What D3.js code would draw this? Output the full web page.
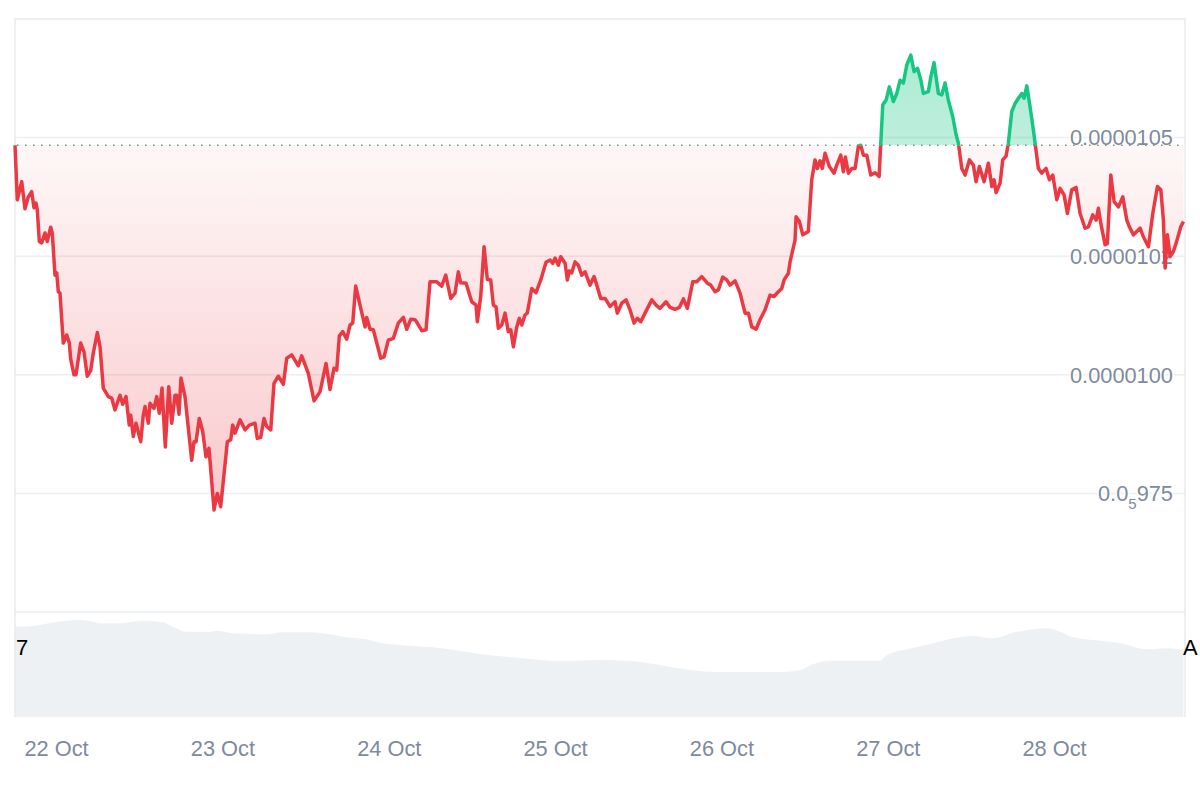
<!DOCTYPE html>
<html>
<head>
<meta charset="utf-8">
<script src="https://cdn.jsdelivr.net/npm/d3@7"></script>
<style>
  body { margin: 0; background: #fff; }
  text { font-family: "Liberation Sans", Arial, sans-serif; }
</style>
</head>
<body>
<script>
const width = 1200;
const height = 800;

// hours after 21 Oct 18:00 UTC, price in units of 1e-8
const priceHours = [0, 0.33, 0.97, 1.44, 1.92, 2.41, 2.74, 3.03, 3.22, 3.51, 3.85, 4.33, 4.66, 5.15, 5.38, 5.77, 6.02, 6.25, 6.49, 6.97,
  7.46, 7.84, 8.04, 8.51, 8.8, 9.48, 9.96, 10.43, 10.92, 11.3, 11.88, 12.27, 12.74, 13.46, 13.95, 14.43, 15.15, 15.54, 16.02, 16.49,
  16.7, 17.07, 17.46, 18.14, 18.51, 18.76, 19.24, 19.48, 20.06, 20.45, 20.82, 21.21, 21.69, 22.18, 22.61, 23.09, 23.33, 23.67, 23.95, 24.53,
  25.5, 25.83, 26.12, 26.59, 27.09, 27.56, 27.99, 28.72, 29.19, 29.68, 30.64, 31.13, 31.41, 31.75, 32.47, 33.19, 33.81, 34.63, 34.96, 35.45,
  35.93, 36.32, 36.9, 37.37, 37.99, 38.72, 39.21, 39.93, 40.88, 41.37, 42.32, 43.15, 44.01, 44.88, 45.45, 46.03, 46.42, 46.8, 47.29, 47.86,
  48.34, 48.73, 49.16, 49.78, 50.51, 50.75, 51.23, 51.7, 52.77, 53.25, 53.87, 54.59, 55.31, 56.03, 56.52, 57.1, 57.72, 58.05, 58.69, 59.31,
  59.88, 60.85, 61.57, 62.15, 62.87, 63.49, 63.97, 64.31, 65.08, 65.9, 66.52, 66.71, 67.2, 67.68, 68.15, 68.64, 69.02, 69.41, 69.74, 70.23,
  70.71, 71.18, 71.53, 71.91, 72.4, 72.77, 73.12, 73.59, 73.92, 74.56, 75.18, 75.86, 76.62, 77.2, 77.59, 77.92, 78.4, 78.74, 79.37, 79.7,
  79.99, 80.33, 80.81, 81.28, 81.77, 82.25, 82.97, 83.55, 83.94, 84.52, 85.14, 85.86, 86.58, 86.91, 87.55, 88.17, 88.74, 89.32, 89.8, 90.29,
  90.91, 91.88, 92.5, 93.07, 93.94, 94.52, 95.24, 95.86, 96.44, 97.01, 97.79, 98.37, 99.09, 99.9, 100.39, 101.01, 101.49, 102.12, 102.7, 103.17,
  103.9, 104.62, 105.34, 105.82, 106.31, 106.93, 107.5, 108.23, 108.95, 109.52, 110.14, 110.63, 110.97, 111.59, 111.83, 112.55, 112.7, 113.18, 113.67, 114.47,
  114.96, 115.44, 115.77, 116.16, 116.49, 116.88, 117.5, 118.18, 118.57, 119.15, 119.52, 119.81, 120.25, 120.74, 121.21, 121.69, 122.03, 122.41, 122.9, 123.48,
  124.1, 124.68, 124.92, 125.21, 125.69, 126.16, 126.74, 127.23, 127.71, 128.18, 128.67, 129.25, 129.73, 130.22, 130.69, 131.07, 131.79, 132.14, 132.61, 133.23,
  133.72, 134.2, 134.67, 135.31, 135.79, 136.12, 136.61, 137.09, 137.71, 138.28, 138.67, 139.15, 139.83, 140.45, 140.94, 141.27, 141.56, 142.14, 142.52, 143.0,
  143.33, 143.82, 144.3, 144.78, 145.27, 145.6, 145.99, 146.46, 146.94, 147.19, 147.66, 148.15, 148.77, 149.25, 149.74, 150.32, 150.79, 151.37, 151.85, 152.48,
  153.1, 153.68, 154.4, 154.88, 155.51, 155.99, 156.32, 156.67, 157.29, 157.62, 158.11, 158.59, 159.21, 159.84, 160.42, 160.79, 161.37, 161.86, 162.34, 162.81,
  163.54, 164.17, 164.84, 165.33, 165.7, 165.95, 166.28, 166.67, 167.14, 167.53, 168.21, 168.59];

const priceValues = [1048.4, 1036.9, 1040.7, 1035.0, 1037.5, 1038.6, 1035.2, 1036.2, 1034.7, 1028.1, 1027.8, 1029.9, 1028.1, 1031.1, 1029.9, 1021.0, 1021.5, 1017.5, 1017.2, 1006.7,
  1008.4, 1006.7, 1003.3, 1000.0, 1000.0, 1006.7, 1004.8, 999.7, 1000.9, 1004.6, 1008.9, 1005.9, 997.2, 995.4, 995.1, 992.6, 995.7, 993.8, 995.4, 989.4,
  991.5, 987.0, 989.8, 985.9, 991.5, 993.3, 989.8, 994.0, 992.9, 995.4, 991.9, 997.2, 984.8, 997.5, 989.8, 995.7, 995.7, 991.7, 999.3, 995.4,
  982.0, 985.9, 985.9, 990.8, 988.0, 982.7, 984.5, 971.5, 975.0, 972.2, 985.9, 986.3, 989.4, 987.7, 990.5, 988.4, 989.4, 989.8, 986.6, 986.8,
  990.8, 989.1, 988.4, 998.2, 999.7, 998.0, 1003.5, 1004.2, 1001.9, 1004.0, 1000.3, 994.5, 996.4, 1002.4, 996.9, 1001.4, 1001.0, 1008.2, 1009.1, 1007.5,
  1010.5, 1010.9, 1018.7, 1014.7, 1010.1, 1012.1, 1009.6, 1009.5, 1003.5, 1003.8, 1007.3, 1007.7, 1010.9, 1012.1, 1009.6, 1011.7, 1011.6, 1010.9, 1009.3, 1009.5,
  1019.6, 1019.6, 1018.7, 1021.0, 1016.1, 1017.2, 1021.7, 1019.4, 1019.3, 1015.4, 1014.7, 1011.2, 1016.5, 1027.0, 1020.1, 1020.0, 1014.7, 1014.3, 1009.8, 1010.5,
  1013.0, 1009.1, 1009.5, 1005.9, 1010.1, 1011.9, 1010.5, 1012.6, 1013.0, 1018.2, 1017.3, 1020.0, 1023.7, 1024.2, 1023.5, 1024.6, 1023.1, 1024.9, 1023.5, 1020.0,
  1021.9, 1021.5, 1023.8, 1023.1, 1021.0, 1021.7, 1018.9, 1020.7, 1018.9, 1016.1, 1016.1, 1014.4, 1015.4, 1013.0, 1015.1, 1015.8, 1013.7, 1010.9, 1011.9, 1011.2,
  1013.0, 1015.8, 1014.7, 1014.0, 1015.4, 1014.2, 1013.8, 1014.2, 1016.0, 1014.0, 1019.6, 1019.6, 1020.7, 1019.3, 1018.9, 1017.5, 1017.9, 1020.6, 1020.0, 1018.9,
  1019.8, 1017.2, 1013.0, 1013.0, 1010.1, 1009.6, 1011.6, 1013.7, 1016.8, 1016.5, 1017.5, 1018.2, 1020.0, 1021.4, 1023.8, 1028.4, 1033.3, 1032.3, 1029.5, 1030.2,
  1041.1, 1045.3, 1043.5, 1045.1, 1043.5, 1046.7, 1043.9, 1042.5, 1044.2, 1046.3, 1042.8, 1045.9, 1042.5, 1043.5, 1043.5, 1048.2, 1048.4, 1046.3, 1046.3, 1042.1,
  1042.6, 1041.8, 1048.8, 1056.9, 1057.9, 1060.7, 1057.6, 1059.3, 1062.1, 1061.5, 1065.3, 1067.4, 1063.9, 1064.6, 1062.2, 1059.3, 1059.7, 1062.8, 1065.8, 1059.3,
  1059.0, 1061.5, 1057.9, 1054.4, 1050.6, 1048.8, 1043.5, 1042.1, 1045.3, 1044.2, 1040.7, 1043.9, 1040.7, 1044.6, 1039.7, 1041.1, 1038.4, 1040.4, 1045.3, 1046.1,
  1048.8, 1055.5, 1057.2, 1058.3, 1059.3, 1058.3, 1060.9, 1056.5, 1051.6, 1048.8, 1043.5, 1042.5, 1043.5, 1041.1, 1042.1, 1036.9, 1039.3, 1037.9, 1034.0, 1039.0,
  1039.5, 1034.0, 1030.9, 1031.2, 1033.7, 1032.6, 1035.1, 1031.9, 1027.4, 1027.7, 1042.1, 1036.5, 1035.4, 1037.5, 1032.6, 1031.2, 1029.5, 1030.2, 1030.9, 1029.1,
  1027.0, 1034.0, 1039.7, 1039.0, 1032.6, 1022.5, 1029.5, 1024.9, 1026.0, 1027.7, 1031.2, 1032.3];

const volumeHours = [0, 2.6, 5.05, 7.46, 9.38, 11.26, 12.27, 15.15, 18.47, 21.36, 22.8, 24.78, 28.14, 29.1, 31.46, 36.32, 38.67, 42.09, 44.44, 47.33,
  50.75, 53.1, 55.56, 61.3, 67.1, 72.9, 78.6, 84.4, 90.2, 97.4, 101.7, 110.4, 113.3, 115.2, 118.0, 124.8, 125.8, 128.7, 132.5, 135.4,
  138.2, 141.1, 144.0, 146.9, 148.9, 150.8, 152.7, 156.6, 159.5, 163.3, 166.2, 168.6];
const volumeValues = [104.2, 105.0, 108.5, 111.1, 111.9, 110.0, 108.1, 108.1, 111.1, 109.3, 104.2, 98.4, 98.4, 99.6, 96.6, 95.4, 97.7, 97.7, 96.6, 92.7,
  89.7, 85.0, 83.1, 79.6, 72.7, 68.1, 64.6, 65.8, 63.5, 54.2, 51.9, 51.9, 54.2, 61.2, 65.0, 65.0, 71.5, 78.1, 85.0, 90.8,
  93.5, 90.8, 97.3, 101.2, 102.3, 98.4, 92.0, 88.0, 85.0, 78.1, 79.3, 77.3];

const dayTicks = [6, 30, 54, 78, 102, 126, 150];
const dayLabels = ["22 Oct", "23 Oct", "24 Oct", "25 Oct", "26 Oct", "27 Oct", "28 Oct"];
const priceTicks = [975, 1000, 1025, 1050];
const priceTickLabels = [["0.0", "5", "975"], ["0.0000100"], ["0.0000102"], ["0.0000105"]];

const startMs = Date.UTC(2024, 9, 21, 18);
const toDate = h => new Date(startMs + h * 3600000);

const prices = priceHours.map((h, i) => ({ t: toDate(h), v: priceValues[i] }));
const volumes = volumeHours.map((h, i) => ({ t: toDate(h), v: volumeValues[i] }));
const basePrice = priceValues[0];

const plotLeft = 15, plotRight = 1185, plotTop = 19, priceBottom = 612, volBottom = 717;

const x = d3.scaleUtc()
  .domain([toDate(0), toDate(168.6)])
  .range([plotLeft, 1183.5]);

const y = d3.scaleLinear()
  .domain([950, 1075])
  .range([priceBottom, plotTop]);

const yVol = d3.scaleLinear()
  .domain([0, 120])
  .range([volBottom, priceBottom + 1]);

const svg = d3.select("body")
  .append("svg")
  .attr("width", width)
  .attr("height", height);

const defs = svg.append("defs");
const baseY = y(basePrice);

const redGrad = defs.append("linearGradient")
  .attr("id", "redGrad")
  .attr("gradientUnits", "userSpaceOnUse")
  .attr("x1", 0).attr("x2", 0)
  .attr("y1", baseY).attr("y2", y(970));
redGrad.append("stop").attr("offset", 0).attr("stop-color", "#ea3943").attr("stop-opacity", 0.04);
redGrad.append("stop").attr("offset", 1).attr("stop-color", "#ea3943").attr("stop-opacity", 0.28);

const greenGrad = defs.append("linearGradient")
  .attr("id", "greenGrad")
  .attr("gradientUnits", "userSpaceOnUse")
  .attr("x1", 0).attr("x2", 0)
  .attr("y1", y(1068)).attr("y2", baseY);
greenGrad.append("stop").attr("offset", 0).attr("stop-color", "#16c784").attr("stop-opacity", 0.36);
greenGrad.append("stop").attr("offset", 1).attr("stop-color", "#16c784").attr("stop-opacity", 0.28);

defs.append("clipPath").attr("id", "clipAbove")
  .append("rect")
  .attr("x", 0).attr("y", 0)
  .attr("width", width).attr("height", baseY);

defs.append("clipPath").attr("id", "clipBelow")
  .append("rect")
  .attr("x", 0).attr("y", baseY)
  .attr("width", width).attr("height", priceBottom - baseY);

// volume
svg.append("path")
  .datum(volumes)
  .attr("fill", "#eef1f4")
  .attr("d", d3.area()
    .x(d => x(d.t))
    .y0(volBottom)
    .y1(d => yVol(d.v))
    .curve(d3.curveMonotoneX));

// frame and grid
svg.append("g")
  .selectAll("line")
  .data(priceTicks)
  .enter()
  .append("line")
  .attr("x1", plotLeft).attr("x2", plotRight)
  .attr("y1", d => y(d)).attr("y2", d => y(d))
  .attr("stroke", "#eceef1")
  .attr("stroke-width", 1.5);

svg.append("line")
  .attr("x1", plotLeft).attr("x2", plotRight)
  .attr("y1", priceBottom).attr("y2", priceBottom)
  .attr("stroke", "#eceef1")
  .attr("stroke-width", 1.5);

svg.append("path")
  .attr("d", `M${plotLeft},${volBottom}V${plotTop}H${plotRight}V${volBottom}`)
  .attr("fill", "none")
  .attr("stroke", "#e8eaed")
  .attr("stroke-width", 1.5);

// price labels
const priceLabel = svg.append("g")
  .selectAll("text")
  .data(priceTicks)
  .enter()
  .append("text")
  .attr("x", 1173)
  .attr("y", d => y(d))
  .attr("dy", "0.36em")
  .attr("text-anchor", "end")
  .attr("font-size", 21.8)
  .attr("fill", "#808a9d")
  .attr("stroke", "#fff")
  .attr("stroke-width", 3)
  .attr("paint-order", "stroke");

priceLabel.each(function(d, i) {
  const parts = priceTickLabels[i];
  const t = d3.select(this);
  if (parts.length === 1) {
    t.text(parts[0]);
  } else {
    t.append("tspan").text(parts[0]);
    t.append("tspan").attr("font-size", 15).attr("dy", 8).text(parts[1]);
    t.append("tspan").attr("dy", -8).text(parts[2]);
  }
});

// price areas
const area = d3.area()
  .x(d => x(d.t))
  .y0(baseY)
  .y1(d => y(d.v));

const line = d3.line()
  .x(d => x(d.t))
  .y(d => y(d.v));

svg.append("path")
  .datum(prices)
  .attr("clip-path", "url(#clipBelow)")
  .attr("fill", "url(#redGrad)")
  .attr("d", area);

svg.append("path")
  .datum(prices)
  .attr("clip-path", "url(#clipAbove)")
  .attr("fill", "url(#greenGrad)")
  .attr("d", area);

svg.append("line")
  .attr("x1", plotLeft + 2).attr("x2", 1182)
  .attr("y1", baseY).attr("y2", baseY)
  .attr("stroke", "#8c8c8c")
  .attr("stroke-width", 1.6)
  .attr("stroke-dasharray", "1.6,6.4");

svg.append("path")
  .datum(prices)
  .attr("clip-path", "url(#clipBelow)")
  .attr("fill", "none")
  .attr("stroke", "#ea3943")
  .attr("stroke-width", 3.5)
  .attr("stroke-linejoin", "round")
  .attr("d", line);

svg.append("path")
  .datum(prices)
  .attr("clip-path", "url(#clipAbove)")
  .attr("fill", "none")
  .attr("stroke", "#16c784")
  .attr("stroke-width", 3.5)
  .attr("stroke-linejoin", "round")
  .attr("d", line);

// time axis
svg.append("g")
  .selectAll("text")
  .data(dayTicks)
  .enter()
  .append("text")
  .attr("x", d => x(toDate(d)))
  .attr("y", 756)
  .attr("text-anchor", "middle")
  .attr("font-size", 21.8)
  .attr("fill", "#808a9d")
  .text((d, i) => dayLabels[i]);

svg.append("text")
  .attr("x", 16)
  .attr("y", 655)
  .attr("font-size", 22)
  .attr("fill", "#000")
  .text("7");

svg.append("text")
  .attr("x", 1183)
  .attr("y", 655)
  .attr("font-size", 22)
  .attr("fill", "#000")
  .text("A");
</script>
</body>
</html>
